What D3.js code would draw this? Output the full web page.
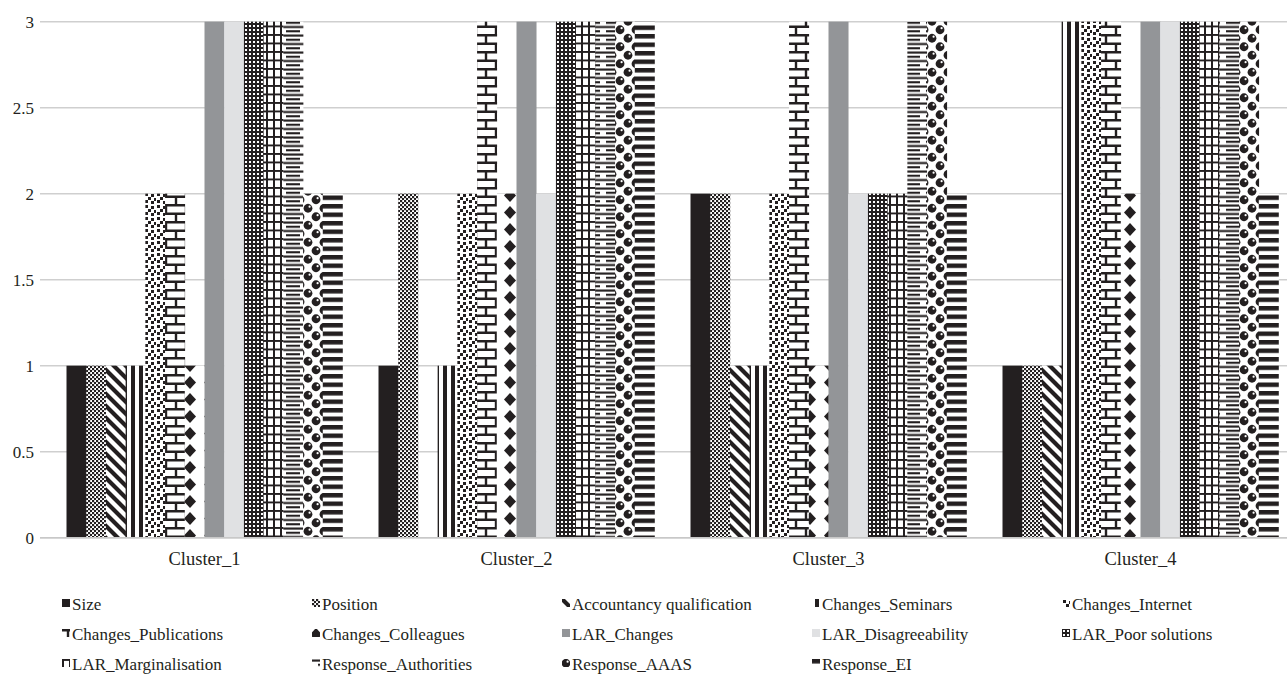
<!DOCTYPE html>
<html><head><meta charset="utf-8">
<script src="https://cdn.jsdelivr.net/npm/d3@7"></script>
<style>
html,body{margin:0;padding:0;background:#fff;}
svg{display:block;}
svg text{font-family:"Liberation Serif","DejaVu Serif",serif;fill:#231f20;}
</style></head>
<body>
<svg id="chart" width="1287" height="686"></svg>
<script>
const categories = ["Cluster_1","Cluster_2","Cluster_3","Cluster_4"];
const seriesNames = ["Size","Position","Accountancy qualification","Changes_Seminars","Changes_Internet",
  "Changes_Publications","Changes_Colleagues","LAR_Changes","LAR_Disagreeability","LAR_Poor solutions",
  "LAR_Marginalisation","Response_Authorities","Response_AAAS","Response_EI"];
const sizeVals          = [1,1,2,1];
const positionVals      = [1,2,2,1];
const accountancyVals   = [1,0,1,1];
const seminarsVals      = [1,1,1,3];
const internetVals      = [2,2,2,3];
const publicationsVals  = [2,3,3,3];
const colleaguesVals    = [1,2,1,2];
const larChangesVals    = [3,3,3,3];
const larDisagreeVals   = [3,2,2,3];
const larPoorVals       = [3,3,2,3];
const larMarginVals     = [3,3,2,3];
const respAuthVals      = [3,3,3,3];
const respAaasVals      = [2,3,3,3];
const respEiVals        = [2,3,2,2];
const yTicks = [0,0.5,1,1.5,2,2.5,3];
const yTickLabels = ["0","0.5","1","1.5","2","2.5","3"];

const seriesValues = [sizeVals,positionVals,accountancyVals,seminarsVals,internetVals,publicationsVals,
  colleaguesVals,larChangesVals,larDisagreeVals,larPoorVals,larMarginVals,respAuthVals,respAaasVals,respEiVals];

const FONT = "'Liberation Serif','DejaVu Serif',serif";
const svg = d3.select("#chart");
const K = "#231f20";
const defs = svg.append("defs");
function pat(id,w,h){
  const p = defs.append("pattern").attr("id",id).attr("patternUnits","userSpaceOnUse")
    .attr("width",w).attr("height",h);
  p.append("rect").attr("width",w).attr("height",h).attr("fill","#fff");
  return p;
}
let p = pat("p1",4,4);
p.append("rect").attr("x",0).attr("y",0).attr("width",2.2).attr("height",2.2).attr("fill",K);
p.append("rect").attr("x",2).attr("y",2).attr("width",2.2).attr("height",2.2).attr("fill",K);
p = pat("p2",12,12);
p.append("path").attr("d","M0,0L12,12M-6,6L6,18M6,-6L18,6").attr("stroke",K).attr("stroke-width",4.2);
p = pat("p3",8,4);
p.append("rect").attr("x",3).attr("width",4).attr("height",4).attr("fill",K);
p = pat("p4",12,12);
[[1,1],[7,2],[4,5],[10,6],[1,8],[7,9]].forEach(d=>p.append("rect").attr("x",d[0]).attr("y",d[1]).attr("width",3).attr("height",3).attr("fill",K));
p = pat("p5",20,17);
p.append("path").attr("d","M0,1.2H20M0,9.7H20M6,1.2V9.7M16,9.7V18.2M16,-7.3V1.2").attr("stroke",K).attr("stroke-width",2.4).attr("fill","none");
p = pat("p6",20,17);
p.append("path").attr("d","M10,2L16,8.5L10,15L4,8.5Z").attr("fill",K);
p = pat("p9",4,4);
p.append("rect").attr("width",4).attr("height",4).attr("fill",K);
p.append("rect").attr("x",1).attr("y",1).attr("width",2).attr("height",2).attr("fill","#fff");
p = pat("p10",7,8.5);
p.append("path").attr("d","M1,0V8.5M0,1H7").attr("stroke",K).attr("stroke-width",2).attr("fill","none");
p = pat("p11",20,8.5);
p.append("path").attr("d","M0,1.5H20M6,5.75H20").attr("stroke",K).attr("stroke-width",2.2).attr("fill","none");
p = pat("p12",16,17);
[[4,4.25],[12,12.75],[12,-4.25],[4,21.25],[20,4.25],[-4,12.75]].forEach(d=>{
  p.append("circle").attr("cx",d[0]).attr("cy",d[1]).attr("r",4.4).attr("fill",K);
  p.append("circle").attr("cx",d[0]+1.6).attr("cy",d[1]-1.6).attr("r",1.1).attr("fill","#fff");
});
p = pat("p13",8,8.5);
p.append("rect").attr("y",0).attr("width",8).attr("height",4.5).attr("fill",K);

const fills = [K,"url(#p1)","url(#p2)","url(#p3)","url(#p4)","url(#p5)","url(#p6)","#939598","#e0e1e3",
  "url(#p9)","url(#p10)","url(#p11)","url(#p12)","url(#p13)"];

const x0 = d3.scaleBand().domain(categories).range([48.5,1296.5]).paddingInner(0.1154).paddingOuter(0.0577);
const x1 = d3.scaleBand().domain(seriesNames).range([0,x0.bandwidth()]).padding(0);
const y = d3.scaleLinear().domain([0,3]).range([537.7,21.7]);

svg.append("g").selectAll("line").data(yTicks).join("line")
  .attr("x1",40).attr("x2",1287).attr("y1",d=>y(d)).attr("y2",d=>y(d))
  .attr("stroke","#cfcfcf").attr("stroke-width",1.5);

svg.append("g").selectAll("text").data(yTicks).join("text")
  .attr("x",34).attr("y",d=>y(d)).attr("dy","0.35em").attr("text-anchor","end")
  .attr("font-family",FONT).attr("font-size",17).text((d,i)=>yTickLabels[i]);

const data = [];
categories.forEach((c,ci)=>seriesNames.forEach((s,si)=>data.push({c,s,si,v:seriesValues[si][ci]})));
svg.append("g").selectAll("rect").data(data.filter(d=>d.v>0)).join("rect")
  .attr("x",d=>x0(d.c)+x1(d.s)).attr("width",x1.bandwidth()+0.3)
  .attr("y",d=>y(d.v)).attr("height",d=>y(0)-y(d.v))
  .attr("fill",d=>fills[d.si]);

svg.append("line").attr("x1",40).attr("x2",1287).attr("y1",y(0)).attr("y2",y(0))
  .attr("stroke","#c8c8c8").attr("stroke-width",1.5);

const xAxis = d3.axisBottom(x0).tickSize(0).tickPadding(14);
const gx = svg.append("g").attr("transform",`translate(0,${y(0)})`).call(xAxis)
  .attr("font-family",FONT).attr("font-size",18.5);
gx.select(".domain").remove();
gx.selectAll("text").attr("fill",K);

const legCols = [62,312,562,812,1062];
const legRows = [604,634,664];
const lg = svg.append("g").selectAll("g").data(seriesNames).join("g")
  .attr("transform",(d,i)=>`translate(${legCols[i%5]},${legRows[Math.floor(i/5)]})`);
lg.append("g").attr("transform",(d,i)=> i===6 ? "translate(0,-5) translate(-6,-3)" : "translate(0,-5)")
  .append("rect").attr("x",(d,i)=> i===6 ? 6 : 0).attr("y",(d,i)=> i===6 ? 3 : 0)
  .attr("width",8).attr("height",8).attr("fill",(d,i)=>fills[i]);
lg.append("text").attr("x",10).attr("y",0).attr("dy","0.35em")
  .attr("font-family",FONT).attr("font-size",17).text(d=>d);
</script>
</body></html>
